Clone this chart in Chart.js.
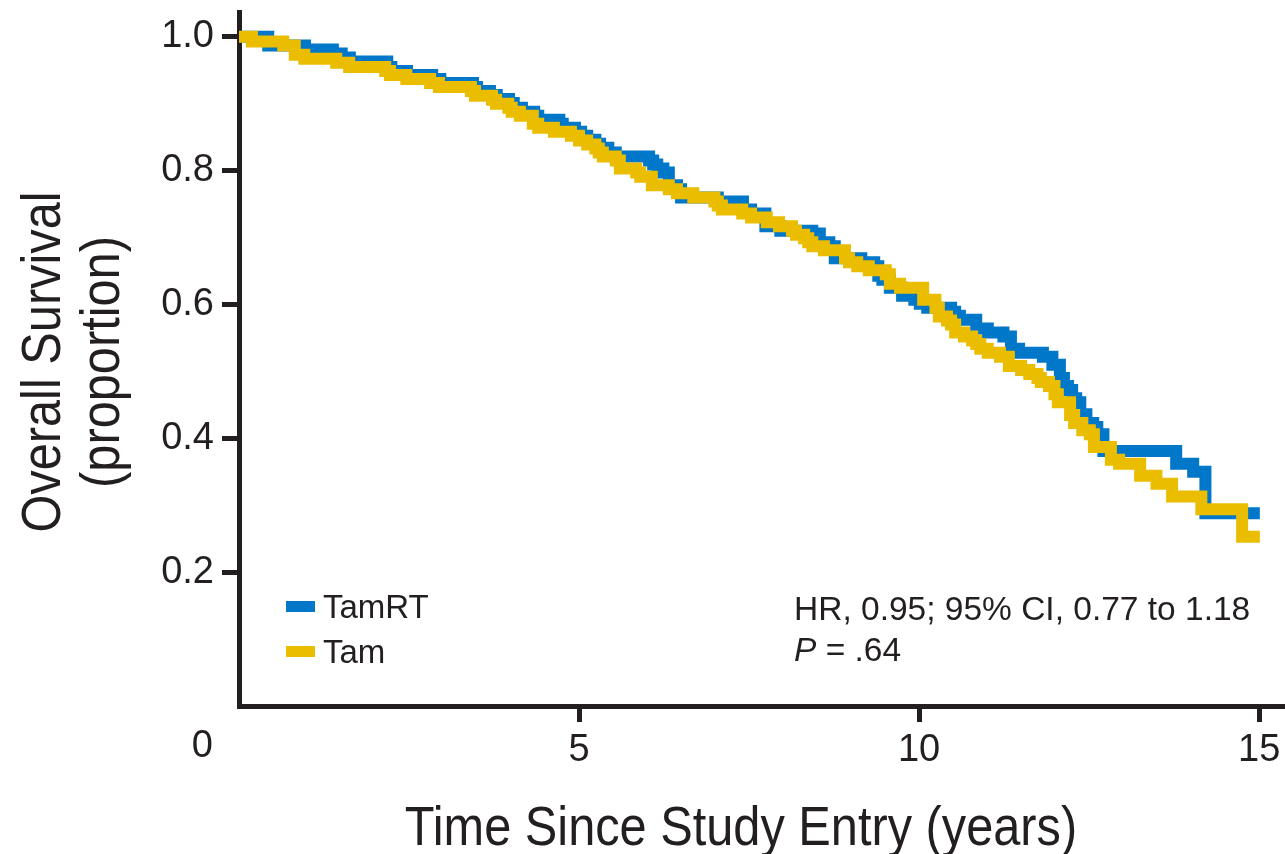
<!DOCTYPE html>
<html>
<head>
<meta charset="utf-8">
<script src="https://cdn.jsdelivr.net/npm/chart.js@4.4.0/dist/chart.umd.min.js"></script>
<style>
  html, body { margin: 0; padding: 0; background: #fff; }
  #wrap { width: 1285px; height: 854px; }
</style>
</head>
<body>
<div id="wrap"><canvas id="km" width="1285" height="854"></canvas></div>
<script>
// Kaplan-Meier steps: time (years) where the drop happens, survival after it
const tamRTTimes = [0, 0.43, 0.97, 1.38, 1.51, 1.63, 2.18, 2.24, 2.47, 2.84, 2.96, 3.44, 3.50, 3.69, 3.79,
  3.97, 4.04, 4.16, 4.34, 4.40, 4.71, 4.76, 4.94, 5.03, 5.12, 5.24, 5.31, 5.43, 5.54, 6.03, 6.09, 6.15,
  6.24, 6.32, 6.44, 6.50, 7.04, 7.41, 7.53, 7.74, 7.96, 8.43, 8.54, 8.68, 8.76, 9.15, 9.34, 9.40, 9.46,
  9.57, 9.75, 9.93, 10.01, 10.12, 10.47, 10.53, 10.60, 10.84, 11.01, 11.24, 11.35, 11.47, 11.82, 11.96,
  12.07, 12.13, 12.19, 12.25, 12.31, 12.37, 12.46, 12.56, 12.62, 12.71, 13.78, 14.03, 14.21, 15.01];
const tamRTSurv = [1.000, 0.987, 0.981, 0.975, 0.969, 0.963, 0.955, 0.949, 0.943, 0.937, 0.931, 0.925, 0.919, 0.913, 0.907,
  0.901, 0.894, 0.888, 0.882, 0.876, 0.870, 0.864, 0.858, 0.852, 0.846, 0.840, 0.834, 0.827, 0.821, 0.815, 0.809, 0.803,
  0.797, 0.778, 0.772, 0.760, 0.754, 0.742, 0.736, 0.717, 0.710, 0.706, 0.693, 0.687, 0.669, 0.663, 0.657, 0.643, 0.637,
  0.625, 0.613, 0.607, 0.601, 0.595, 0.589, 0.583, 0.577, 0.564, 0.558, 0.552, 0.534, 0.528, 0.522, 0.510,
  0.490, 0.478, 0.472, 0.460, 0.454, 0.436, 0.423, 0.417, 0.406, 0.381, 0.362, 0.350, 0.288, 0.288];

const tamTimes = [0, 0.19, 0.65, 0.82, 0.96, 1.43, 1.62, 2.15, 2.22, 2.46, 2.81, 2.94, 3.41, 3.47, 3.72, 3.78,
  3.96, 4.01, 4.13, 4.32, 4.40, 4.63, 4.88, 5.00, 5.12, 5.24, 5.29, 5.35, 5.54, 5.60, 5.84, 5.90, 6.07,
  6.32, 6.44, 6.68, 6.99, 7.04, 7.10, 7.40, 7.53, 7.76, 7.94, 8.13, 8.19, 8.31, 8.37, 8.43, 8.60, 8.91,
  8.97, 9.09, 9.26, 9.51, 9.57, 9.72, 10.06, 10.24, 10.29, 10.41, 10.47, 10.53, 10.66, 10.78, 10.84, 10.90,
  11.01, 11.19, 11.32, 11.50, 11.62, 11.74, 11.79, 11.91, 11.99, 12.04, 12.22, 12.28, 12.40, 12.51, 12.57,
  12.82, 12.94, 13.25, 13.49, 13.72, 14.15, 14.75, 15.01];
const tamSurv = [1.000, 0.993, 0.987, 0.973, 0.967, 0.961, 0.955, 0.949, 0.943, 0.937, 0.931, 0.925, 0.919, 0.912, 0.906, 0.900,
  0.894, 0.888, 0.882, 0.870, 0.864, 0.858, 0.852, 0.845, 0.839, 0.833, 0.827, 0.821, 0.815, 0.803, 0.797, 0.791, 0.778,
  0.772, 0.766, 0.760, 0.754, 0.748, 0.742, 0.736, 0.730, 0.723, 0.717, 0.710, 0.704, 0.699, 0.693, 0.687, 0.681, 0.669,
  0.663, 0.657, 0.651, 0.645, 0.631, 0.625, 0.607, 0.595, 0.582, 0.576, 0.570, 0.558, 0.552, 0.546, 0.541, 0.534,
  0.528, 0.522, 0.508, 0.502, 0.496, 0.490, 0.484, 0.478, 0.466, 0.454, 0.435, 0.423, 0.412, 0.406, 0.387,
  0.368, 0.362, 0.344, 0.332, 0.313, 0.294, 0.253, 0.253];

const xTicks = [5, 10, 15];
const yTicks = [0.2, 0.4, 0.6, 0.8, 1.0];
const seriesNames = ['TamRT', 'Tam'];
const statLine1 = 'HR, 0.95; 95% CI, 0.77 to 1.18';
const statP = '.64';

const ink = '#231f20';
const blue = '#0077c8';
const gold = '#ebbd00';
const font = '"Liberation Sans", Arial, sans-serif';

const toPts = (ts, ss) => ts.map((t, i) => ({ x: t, y: ss[i] }));

// titles, legend, stats text and the shared "0" at the origin
const textPlugin = {
    id: 'texts',
    afterDraw(chart) {
        const { ctx, chartArea } = chart;
        ctx.save();
        ctx.fillStyle = ink;

        ctx.font = '38px ' + font;
        ctx.textAlign = 'right';
        ctx.textBaseline = 'middle';
        ctx.fillText('0', chartArea.left - 26, chartArea.bottom + 41);

        // x title (condensed look)
        ctx.font = '56px ' + font;
        ctx.textAlign = 'center';
        ctx.textBaseline = 'alphabetic';
        ctx.save();
        ctx.translate(741, 845);
        ctx.scale(0.87, 1);
        ctx.fillText('Time Since Study Entry (years)', 0, 0);
        ctx.restore();

        // y title, two lines
        ctx.save();
        ctx.translate(60, 362);
        ctx.rotate(-Math.PI / 2);
        ctx.scale(0.87, 1);
        ctx.fillText('Overall Survival', 0, 0);
        ctx.restore();
        ctx.save();
        ctx.translate(119, 362);
        ctx.rotate(-Math.PI / 2);
        ctx.scale(0.87, 1);
        ctx.fillText('(proportion)', 0, 0);
        ctx.restore();

        // legend
        ctx.font = '33px ' + font;
        ctx.textAlign = 'left';
        ctx.fillStyle = blue;
        ctx.fillRect(286, 601, 29, 11);
        ctx.fillStyle = gold;
        ctx.fillRect(286, 646, 29, 11);
        ctx.fillStyle = ink;
        ctx.fillText(seriesNames[0], 323, 618);
        ctx.fillText(seriesNames[1], 323, 663);

        // hazard ratio text
        ctx.font = '33.5px ' + font;
        ctx.fillText(statLine1, 794, 620);
        ctx.font = 'italic 33.5px ' + font;
        ctx.fillText('P', 794, 661);
        const pw = ctx.measureText('P').width;
        ctx.font = '33.5px ' + font;
        ctx.fillText(' = ' + statP, 794 + pw, 661);
        ctx.restore();
    }
};

new Chart(document.getElementById('km'), {
    type: 'line',
    data: {
        datasets: [
            {
                label: seriesNames[0],
                data: toPts(tamRTTimes, tamRTSurv),
                borderColor: blue,
                order: 2
            },
            {
                label: seriesNames[1],
                data: toPts(tamTimes, tamSurv),
                borderColor: gold,
                order: 1
            }
        ]
    },
    options: {
        responsive: false,
        animation: false,
        devicePixelRatio: 1,
        layout: { padding: { top: 12, left: 0, right: 0, bottom: 0 } },
        elements: {
            line: { stepped: true, borderWidth: 12, borderJoinStyle: 'miter', borderCapStyle: 'butt', fill: false, tension: 0 },
            point: { radius: 0 }
        },
        plugins: { legend: { display: false }, tooltip: { enabled: false } },
        scales: {
            x: {
                type: 'linear',
                min: 0,
                max: 15.38,
                z: 1,
                afterBuildTicks: s => { s.ticks = xTicks.map(v => ({ value: v })); },
                afterFit: s => { s.height = 148; s.paddingLeft = 0; s.paddingRight = 0; },
                border: { color: ink, width: 5 },
                grid: { drawOnChartArea: false, drawTicks: true, tickLength: 16, tickWidth: 5, tickColor: ink },
                ticks: { color: ink, font: { family: font, size: 38 }, padding: 6, maxRotation: 0 }
            },
            y: {
                min: 0,
                max: 1.037,
                z: 1,
                afterBuildTicks: s => { s.ticks = yTicks.map(v => ({ value: v })); },
                afterFit: s => { s.width = 239; s.paddingTop = 0; s.paddingBottom = 0; },
                border: { color: ink, width: 5 },
                grid: { drawOnChartArea: false, drawTicks: true, tickLength: 17, tickWidth: 5, tickColor: ink },
                ticks: { color: ink, font: { family: font, size: 38 }, padding: 8, callback: v => v.toFixed(1) }
            }
        }
    },
    plugins: [textPlugin]
});
</script>
</body>
</html>
